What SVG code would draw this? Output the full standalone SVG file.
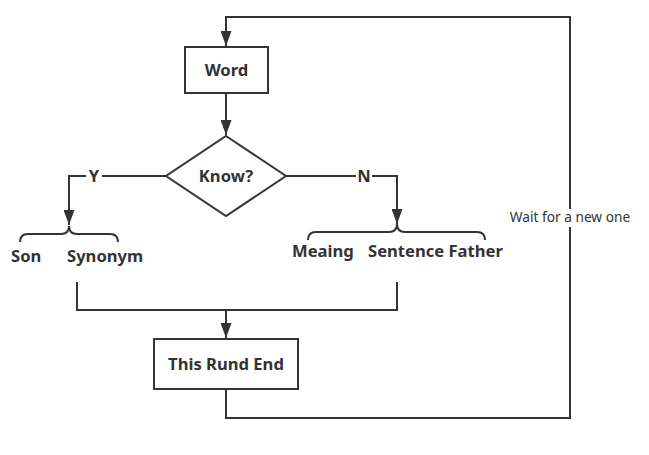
<svg xmlns="http://www.w3.org/2000/svg" width="649" height="455" viewBox="0 0 649 455">
<style>
.ln{fill:none;stroke:#333;stroke-width:2}
.bx{fill:#fff;stroke:#333;stroke-width:2}
.t{font-family:"Noto Sans","Open Sans",sans-serif;font-weight:bold;font-size:16.6px;fill:#333}
.s{font-family:"Noto Sans","Open Sans",sans-serif;font-size:13.7px;fill:#333}
</style>
<defs>
<marker id="ah" markerUnits="userSpaceOnUse" markerWidth="15" markerHeight="11" refX="15" refY="5.5" orient="auto" viewBox="0 0 15 11">
<path d="M0,0 L15,5.5 L0,11 Z" fill="#333"/>
</marker>
</defs>
<g id="connectors">
<path class="ln" d="M226,389 L226,418 L570,418 L570,17 L226,17 L226,46" marker-end="url(#ah)"/>
<path class="ln" d="M226,93 L226,135" marker-end="url(#ah)"/>
<path class="ln" d="M166,176 L69,176 L69,225" marker-end="url(#ah)"/>
<path class="ln" d="M286,176 L397,176 L397,224" marker-end="url(#ah)"/>
<path class="ln" d="M20,242 Q20,234 28,234 L61,234 Q69,234 69,226 Q69,234 77,234 L110,234 Q118,234 118,242"/>
<path class="ln" d="M308,240 Q308,232 316,232 L389,232 Q397,232 397,224 Q397,232 405,232 L477,232 Q485,232 485,240"/>
<path class="ln" d="M77,282 L77,310 L397,310 L397,282"/>
<path class="ln" d="M226,310 L226,338" marker-end="url(#ah)"/>
<rect x="86" y="168" width="16" height="16" fill="#fff"/>
<text class="t" x="94" y="182" text-anchor="middle">Y</text>
<rect x="356" y="168" width="16" height="16" fill="#fff"/>
<text class="t" x="364" y="182" text-anchor="middle">N</text>
<rect x="508" y="209" width="124" height="18" fill="#fff"/>
<text class="s" x="570" y="222" text-anchor="middle">Wait for a new one</text>
</g>
<g id="word">
<rect class="bx" x="185" y="47" width="83" height="46"/>
<text class="t" x="226.5" y="76" text-anchor="middle">Word</text>
</g>
<g id="know">
<path class="bx" d="M226,136 L286,176 L226,216 L166,176 Z"/>
<text class="t" x="226" y="182" text-anchor="middle">Know?</text>
</g>
<g id="son"><text class="t" x="11" y="262">Son</text></g>
<g id="synonym"><text class="t" x="67" y="262">Synonym</text></g>
<g id="meaing"><text class="t" x="292" y="257">Meaing</text></g>
<g id="sentence-father"><text class="t" x="368" y="257">Sentence Father</text></g>
<g id="end">
<rect class="bx" x="154" y="339" width="144" height="50"/>
<text class="t" x="226" y="370" text-anchor="middle">This Rund End</text>
</g>
</svg>
